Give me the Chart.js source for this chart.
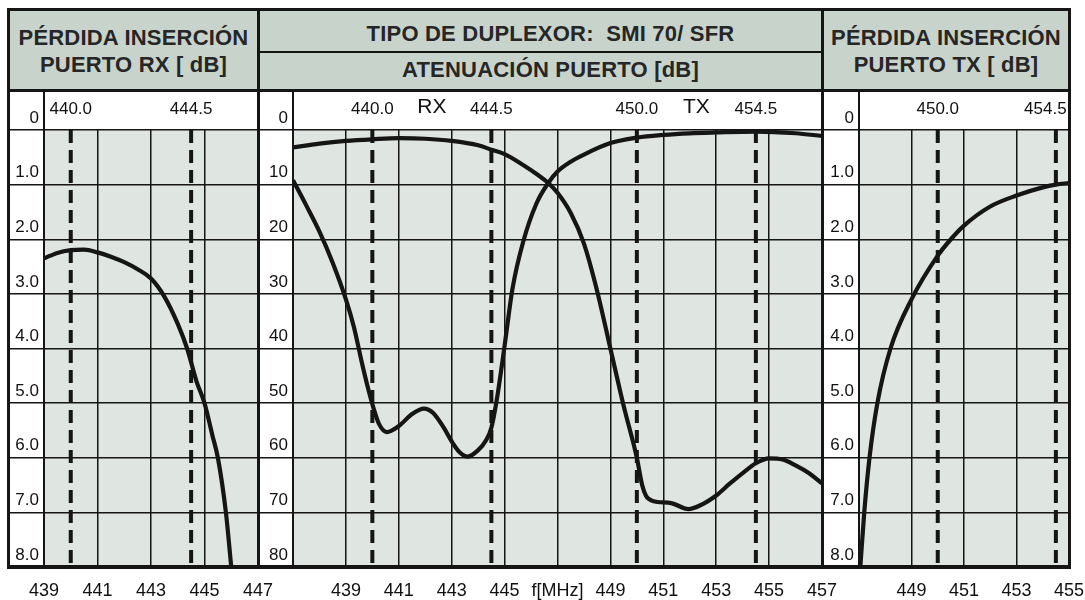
<!DOCTYPE html>
<html>
<head>
<meta charset="utf-8">
<script src="https://cdn.jsdelivr.net/npm/chart.js"></script>
<style>
  html, body { margin: 0; padding: 0; background: #fff; }
  #page { position: relative; width: 1085px; height: 600px; overflow: hidden; font-family: "Liberation Sans", Arial, sans-serif; }
  #page canvas { position: absolute; left: 0; top: 0; }
  .head { position: absolute; box-sizing: border-box; background: #c8d3cb; color: #262626; font-weight: bold; font-size: 22px; letter-spacing: 0.2px; line-height: 27px; text-align: center; display: flex; flex-direction: column; justify-content: center; white-space: pre; }
  .ln { position: absolute; background: #151515; }
</style>
</head>
<body>
<div id="page">
  <canvas id="cRx" width="1085" height="600"></canvas>
  <canvas id="cAten" width="1085" height="600"></canvas>
  <canvas id="cTx" width="1085" height="600"></canvas>

  <div class="head" style="left:10px;top:11px;width:247px;height:78px;padding-top:2px">PÉRDIDA INSERCIÓN<br>PUERTO RX [ dB]</div>
  <div class="head" style="left:260px;top:11px;width:561px;height:40px;padding-top:4px;padding-left:20px">TIPO DE DUPLEXOR:  SMI 70/ SFR</div>
  <div class="head" style="left:260px;top:53px;width:561px;height:36px;padding-bottom:4px;padding-left:20px">ATENUACIÓN PUERTO [dB]</div>
  <div class="head" style="left:824px;top:11px;width:244px;height:78px;padding-top:2px">PÉRDIDA INSERCIÓN<br>PUERTO TX [ dB]</div>

  <!-- marco -->
  <div class="ln" style="left:7px;top:8px;width:1064px;height:3px"></div>
  <div class="ln" style="left:7px;top:565px;width:1064px;height:4px"></div>
  <div class="ln" style="left:7px;top:8px;width:3px;height:561px"></div>
  <div class="ln" style="left:1068px;top:8px;width:3px;height:561px"></div>
  <div class="ln" style="left:257px;top:8px;width:3px;height:561px"></div>
  <div class="ln" style="left:821px;top:8px;width:3px;height:561px"></div>
  <div class="ln" style="left:7px;top:89px;width:1064px;height:3px"></div>
  <div class="ln" style="left:260px;top:51px;width:561px;height:2px"></div>
  <div class="ln" style="left:43px;top:91px;width:2px;height:476px"></div>
  <div class="ln" style="left:292px;top:91px;width:2px;height:476px"></div>
  <div class="ln" style="left:858px;top:91px;width:2px;height:476px"></div>
</div>

<script>
// bandas RX / TX (MHz), lineas discontinuas
const rxBand = [440.0, 444.5]
const txBand = [450.0, 454.5]

// perdida de insercion puerto RX [dB]
const rxLossFreq = [439, 439.5, 440, 440.5, 441, 441.5, 442, 442.5, 443, 443.5, 444, 444.35, 444.7, 445, 445.3, 445.5, 445.8, 446.0]
const rxLossDb = [2.35, 2.25, 2.2, 2.19, 2.24, 2.32, 2.42, 2.55, 2.72, 3.05, 3.55, 4.0, 4.6, 5.0, 5.6, 6.0, 7.0, 8.0]

// atenuacion puerto: curva que deja pasar RX y corta TX
const atenAFreq = [437, 438, 439, 440, 441, 442, 443, 444, 444.5, 445, 445.7, 446.25, 446.65, 447, 447.5, 448, 448.5, 449, 449.5, 450, 450.2, 450.35, 450.6, 451.3, 451.95, 452.4, 453, 453.5, 454, 454.5, 455, 455.5, 456, 456.5, 457]
const atenADb = [3.2, 2.5, 2.0, 1.7, 1.5, 1.6, 2.0, 2.8, 3.6, 4.4, 6.4, 8.2, 9.7, 11.5, 15.2, 20.8, 29.5, 40, 50.5, 60, 65, 67, 67.9, 68.3, 69.4, 68.7, 66.9, 64.8, 62.8, 61.0, 60.1, 60.3, 61.4, 62.8, 64.7]

// atenuacion puerto: curva que corta RX y deja pasar TX
const atenBFreq = [437, 437.5, 438, 438.5, 439, 439.3, 439.6, 439.85, 440.05, 440.25, 440.55, 441, 441.5, 441.95, 442.3, 442.7, 443, 443.3, 443.6, 444, 444.3, 444.5, 444.7, 445, 445.3, 445.7, 446.2, 446.65, 447, 447.5, 448, 449, 450, 451, 452, 453, 454.5, 456, 457]
const atenBDb = [9.2, 13.8, 18.6, 24.3, 31, 36, 42.5, 47.5, 51, 53.8, 55.3, 54.2, 52, 51, 51.8, 54.5, 57, 59, 59.8, 58.6, 56.8, 54.5, 49.5, 39.5, 29, 20.5, 13.5, 9.7, 7.6, 5.8, 4.5, 2.4, 1.4, 0.9, 0.6, 0.45, 0.3, 0.6, 1.1]

// perdida de insercion puerto TX [dB]
const txLossFreq = [447.05, 447.2, 447.4, 447.7, 448.2, 449.0, 450.0, 450.5, 451.0, 452.0, 453.0, 454.0, 454.5, 455.0]
const txLossDb = [8.0, 7.0, 6.0, 5.0, 4.0, 3.1, 2.3, 2.0, 1.75, 1.4, 1.2, 1.05, 1.0, 0.97]

// etiquetas de los ejes
const rxFreqTicks = ['439', '441', '443', '445', '447']
const atenFreqTicks = ['', '439', '441', '443', '445', 'f[MHz]', '449', '451', '453', '455', '457']
const txFreqTicks = ['', '449', '451', '453', '455']
const lossDbTicks = ['0', '1.0', '2.0', '3.0', '4.0', '5.0', '6.0', '7.0', '8.0']
const atenDbTicks = ['0', '10', '20', '30', '40', '50', '60', '70', '80']
const rxTopTicks = [440.0, 444.5]
const rxTopLabels = ['440.0', '444.5']
const atenTopTicks = [440.0, 442.25, 444.5, 450.0, 452.25, 454.5]
const atenTopLabels = ['440.0', 'RX', '444.5', '450.0', 'TX', '454.5']
const txTopTicks = [450.0, 454.1]
const txTopLabels = ['450.0', '454.5']

const ink = '#151515'
const family = "'Liberation Sans', Arial, sans-serif"

// fondo gris del area de trazado
const plotBg = {
  id: 'plotBg',
  beforeDraw (chart) {
    const { ctx, chartArea: a } = chart
    ctx.save()
    ctx.fillStyle = '#dfe5e0'
    ctx.fillRect(a.left, a.top, a.right - a.left, a.bottom - a.top)
    ctx.restore()
  }
}

function makePanel (id, p) {
  const datasets = []
  p.bands.forEach(f => {
    datasets.push({ data: [{ x: f, y: 0 }, { x: f, y: p.yMax }], borderColor: ink, borderWidth: 4, borderDash: [13, 7], pointRadius: 0 })
  })
  p.curves.forEach(c => {
    datasets.push({ data: c.f.map((x, i) => ({ x, y: c.v[i] })), borderColor: ink, borderWidth: 4.2, pointRadius: 0, cubicInterpolationMode: 'monotone' })
  })
  const colW = p.plotLeft - p.colLeft
  const yStep = p.yMax / 8

  new Chart(document.getElementById(id), {
    type: 'line',
    data: { datasets },
    plugins: [plotBg],
    options: {
      responsive: false,
      animation: false,
      devicePixelRatio: 1,
      layout: { autoPadding: false, padding: { left: p.colLeft, right: 1085 - p.plotRight, top: 90, bottom: 0 } },
      plugins: { legend: { display: false }, tooltip: { enabled: false } },
      scales: {
        x: {
          type: 'linear', position: 'bottom', min: p.xMin, max: p.xMax,
          grid: { color: ink, lineWidth: 1.5, drawTicks: false },
          border: { display: false },
          ticks: { stepSize: 2, autoSkip: false, maxRotation: 0, padding: 13, color: '#111', font: { size: 18, family }, callback: v => p.xTicks[Math.round((v - p.xMin) / 2)] },
          afterFit: s => { s.height = 33; s.paddingLeft = 0; s.paddingRight = 0 }
        },
        xTop: {
          axis: 'x', type: 'linear', position: 'top', min: p.xMin, max: p.xMax,
          grid: { display: false },
          border: { display: false },
          afterBuildTicks: s => { s.ticks = p.topTicks.map(v => ({ value: v })) },
          ticks: {
            autoSkip: false, maxRotation: 0, padding: 2, color: '#111',
            font: ctx => ({ size: /X$/.test(p.topLabels[ctx.index]) ? 21 : 17, family }),
            callback: (v, i) => p.topLabels[i]
          },
          afterFit: s => { s.height = 40; s.paddingLeft = 0; s.paddingRight = 0 }
        },
        y: {
          type: 'linear', reverse: true, min: 0, max: p.yMax,
          grid: { color: ink, lineWidth: 1.5, tickLength: colW, tickColor: ink, tickWidth: 1.5 },
          border: { display: false },
          ticks: { stepSize: yStep, labelOffset: -12, padding: 5 - colW, color: '#111', font: { size: 17, family }, callback: v => p.yTicks[Math.round(v / yStep)] },
          afterFit: s => { s.width = colW; s.paddingTop = 0; s.paddingBottom = 0 }
        }
      }
    }
  })
}

makePanel('cRx', {
  colLeft: 8, plotLeft: 44, plotRight: 258, xMin: 439, xMax: 447, yMax: 8,
  xTicks: rxFreqTicks, yTicks: lossDbTicks, topTicks: rxTopTicks, topLabels: rxTopLabels,
  bands: rxBand, curves: [{ f: rxLossFreq, v: rxLossDb }]
})

makePanel('cAten', {
  colLeft: 258, plotLeft: 293, plotRight: 822, xMin: 437, xMax: 457, yMax: 80,
  xTicks: atenFreqTicks, yTicks: atenDbTicks, topTicks: atenTopTicks, topLabels: atenTopLabels,
  bands: rxBand.concat(txBand), curves: [{ f: atenAFreq, v: atenADb }, { f: atenBFreq, v: atenBDb }]
})

makePanel('cTx', {
  colLeft: 822, plotLeft: 859, plotRight: 1069, xMin: 447, xMax: 455, yMax: 8,
  xTicks: txFreqTicks, yTicks: lossDbTicks, topTicks: txTopTicks, topLabels: txTopLabels,
  bands: txBand, curves: [{ f: txLossFreq, v: txLossDb }]
})
</script>
</body>
</html>
